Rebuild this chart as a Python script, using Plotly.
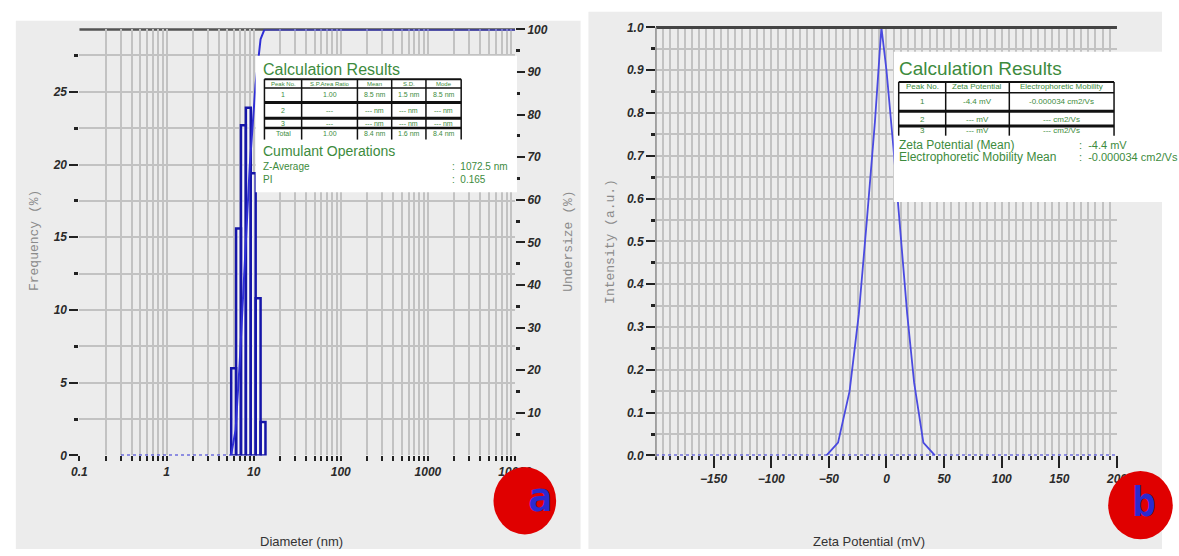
import plotly.graph_objects as go
import numpy as np

W, H = 1179, 556

# ---------------- data ----------------
# Panel a: size distribution (log-spaced bins)
bin_sizes_nm = [5.89, 6.70, 7.62, 8.68, 9.88, 11.25, 12.80]
bin_freq_pct = [6.0, 15.6, 22.7, 23.9, 19.4, 10.8, 2.3]
bin_ratio = 1.138
undersize_d_nm = [5.5, 6.2, 6.9, 7.8, 9.0, 10.5, 12.0, 13.3, 14.5, 10000]
undersize_pct = [0, 6, 21.5, 44, 67.7, 87, 97.7, 100, 100, 100]
baseline_d_nm = [0.3, 5.5]

# Panel b: zeta potential distribution
zeta_mv = [-52, -42, -32, -24, -17, -10, -4.4, 0, 6, 12, 18, 24, 32, 42]
zeta_int = [0, 0.03, 0.15, 0.33, 0.55, 0.78, 1.0, 0.9, 0.72, 0.52, 0.33, 0.17, 0.03, 0]

left_header = ["Peak No.", "S.P.Area Ratio", "Mean", "S.D.", "Mode"]
left_rows = [["1", "1.00", "8.5 nm", "1.5 nm", "8.5 nm"],
             ["2", "---", "--- nm", "--- nm", "--- nm"],
             ["3", "---", "--- nm", "--- nm", "--- nm"],
             ["Total", "1.00", "8.4 nm", "1.6 nm", "8.4 nm"]]
right_header = ["Peak No.", "Zeta Potential", "Electrophoretic Mobility"]
right_rows = [["1", "-4.4 mV", "-0.000034 cm2/Vs"],
              ["2", "--- mV", "--- cm2/Vs"],
              ["3", "--- mV", "--- cm2/Vs"]]

# ---------------- helpers ----------------
def px(x):
    return x / W

def py(y):
    return 1 - y / H

GREEN = "#3d8b3d"
BLUE = "#2f2fd6"
DARK_BLUE = "#1616a8"
GRID = "#c2c2c2"
TICKFONT = dict(family="Liberation Sans, Arial", size=12, color="#2a2a2a", weight="bold", style="italic")

fig = go.Figure()

# histogram bars as outlined rectangles
bx, by = [], []
for c, f in zip(bin_sizes_nm, bin_freq_pct):
    l, r = c / np.sqrt(bin_ratio), c * np.sqrt(bin_ratio)
    bx += [l, l, r, r, l, None]
    by += [0, f, f, 0, 0, None]
fig.add_trace(go.Scatter(x=bx, y=by, mode="lines", fill="toself", fillcolor="rgba(255,255,255,0.6)",
                         line=dict(color=DARK_BLUE, width=2.5), xaxis="x", yaxis="y", showlegend=False))
fig.add_trace(go.Scatter(x=baseline_d_nm, y=[0, 0], mode="lines", line=dict(color=BLUE, width=2, dash="dot"),
                         xaxis="x", yaxis="y", showlegend=False))
fig.add_trace(go.Scatter(x=undersize_d_nm, y=undersize_pct, mode="lines", line=dict(color=BLUE, width=2),
                         xaxis="x", yaxis="y2", showlegend=False, cliponaxis=False))

# zeta
fig.add_trace(go.Scatter(x=[-200, 200], y=[0, 0], mode="lines", line=dict(color=BLUE, width=2, dash="dot"),
                         xaxis="x2", yaxis="y3", showlegend=False, cliponaxis=False))
fig.add_trace(go.Scatter(x=zeta_mv, y=zeta_int, mode="lines", line=dict(color="#4a4ae0", width=1.8),
                         xaxis="x2", yaxis="y3", showlegend=False, cliponaxis=False))

# axes
logvals, logtext = [], []
for d in [0.1, 1, 10, 100, 1000]:
    for k in range(1, 10):
        logvals.append(d * k)
        logtext.append(("%g" % d) if k == 1 else "")
logvals.append(10000)
logtext.append("10000")

ydom_a = [py(460), py(23)]
ydom_b = [py(460), py(21)]

fig.update_layout(
    width=W, height=H, margin=dict(l=0, r=0, t=0, b=0),
    paper_bgcolor="white", plot_bgcolor="white", showlegend=False,
    xaxis=dict(type="log", domain=[px(73), px(518)], range=[-1, 4], anchor="y",
               tickmode="array", tickvals=logvals, ticktext=logtext,
               showgrid=True, gridcolor=GRID, gridwidth=2, zeroline=False, showline=False,
               ticks="outside", ticklen=5, tickwidth=2, tickcolor="#222", tickfont=TICKFONT),
    yaxis=dict(domain=ydom_a, range=[0, 29.29], anchor="x", dtick=5, tick0=0,
               showgrid=True, gridcolor=GRID, gridwidth=2, zeroline=False, showline=False,
               ticks="outside", ticklen=9, tickwidth=1.5, tickcolor="#222", tickfont=TICKFONT,
               minor=dict(dtick=2.5, tick0=0, ticks="outside", ticklen=4, tickwidth=3, tickcolor="#222",
                          showgrid=True, gridcolor=GRID, gridwidth=2)),
    yaxis2=dict(overlaying="y", side="right", anchor="x", range=[0, 100], tickmode="array",
                tickvals=list(range(10, 101, 10)), showgrid=False, zeroline=False, showline=False,
                ticks="outside", ticklen=9, tickwidth=1.5, tickcolor="#222", tickfont=TICKFONT,
                minor=dict(tickmode="array", tickvals=list(range(5, 100, 10)), ticks="outside",
                           ticklen=4, tickwidth=3, tickcolor="#222")),
    xaxis2=dict(domain=[px(662), px(1133)], range=[-200, 200], anchor="y3",
                tickmode="array", tickvals=[-150, -100, -50, 0, 50, 100, 150, 200],
                showgrid=False, zeroline=False, showline=False,
                ticks="outside", ticklen=12, tickwidth=1.5, tickcolor="#222", tickfont=TICKFONT,
                minor=dict(dtick=6.25, tick0=0, ticks="outside", ticklen=4, tickwidth=2, tickcolor="#333",
                           showgrid=True, gridcolor=GRID, gridwidth=1.6)),
    yaxis3=dict(domain=ydom_b, range=[0, 1], anchor="x2", dtick=0.1, tickformat=".1f",
                showgrid=True, gridcolor=GRID, gridwidth=1.6, zeroline=False, showline=False,
                ticks="outside", ticklen=9, tickwidth=1.5, tickcolor="#222", tickfont=TICKFONT,
                minor=dict(dtick=0.05, ticks="outside", ticklen=4, tickwidth=3, tickcolor="#222",
                           showgrid=True, gridcolor=GRID, gridwidth=1.6)),
)

shapes = []
# panel backgrounds
shapes.append(dict(type="rect", xref="paper", yref="paper", x0=px(8), x1=px(585), y0=0, y1=py(14),
                   fillcolor="#ececec", line=dict(width=0), layer="below"))
shapes.append(dict(type="rect", xref="paper", yref="paper", x0=px(593), x1=1, y0=0, y1=py(5),
                   fillcolor="#ececec", line=dict(width=0), layer="below"))
# top frame lines
shapes.append(dict(type="line", xref="paper", yref="paper", x0=px(73), x1=px(518), y0=py(23), y1=py(23),
                   line=dict(color="#555", width=2.5), layer="below"))
shapes.append(dict(type="line", xref="paper", yref="paper", x0=px(662), x1=px(1133), y0=py(21), y1=py(21),
                   line=dict(color="#444", width=3), layer="above"))
shapes.append(dict(type="line", xref="paper", yref="paper", x0=px(662), x1=px(662), y0=py(21), y1=py(462),
                   line=dict(color="#8a8a8a", width=1.5), layer="above"))

annotations = []

def text(x, y, s, size, color=GREEN, anchor="left", family="Liberation Sans Narrow, Liberation Sans, Arial"):
    annotations.append(dict(xref="paper", yref="paper", x=px(x), y=py(y), text=s, showarrow=False,
                            xanchor=anchor, yanchor="middle", font=dict(family=family, size=size, color=color)))

def hline(x0, x1, y, w=2, color="#111"):
    shapes.append(dict(type="line", xref="paper", yref="paper", x0=px(x0), x1=px(x1), y0=py(y), y1=py(y),
                       line=dict(color=color, width=w), layer="above"))

def vline(x, y0, y1, w=1.5, color="#111"):
    shapes.append(dict(type="line", xref="paper", yref="paper", x0=px(x), x1=px(x), y0=py(y0), y1=py(y1),
                       line=dict(color=color, width=w), layer="above"))

# ---- left results box ----
shapes.append(dict(type="rect", xref="paper", yref="paper", x0=px(253), x1=px(520), y0=py(190), y1=py(50),
                   fillcolor="white", line=dict(width=0), layer="above"))
text(258, 64, "Calculation Results", 16)
lcols = [262, 300, 357, 392, 427, 463]
for y, w in [(74, 2), (83, 1.5), (98, 3), (114, 3), (124, 2.5)]:
    hline(lcols[0], lcols[-1], y, w)
for x in lcols:
    vline(x, 74, 136, 1.5)
lrow_y = [90, 106, 119, 130]
for i, s in enumerate(left_header):
    text((lcols[i] + lcols[i + 1]) / 2, 79, s, 6, anchor="center")
for r, row in enumerate(left_rows):
    for i, s in enumerate(row):
        text((lcols[i] + lcols[i + 1]) / 2, lrow_y[r], s, 7, anchor="center")
text(258, 148, "Cumulant Operations", 14)
text(258, 164, "Z-Average", 10)
text(258, 177, "PI", 10)
text(452, 164, ":  1072.5 nm", 10)
text(452, 177, ":  0.165", 10)

# ---- right results box ----
shapes.append(dict(type="rect", xref="paper", yref="paper", x0=px(905), x1=1, y0=py(200), y1=py(46),
                   fillcolor="white", line=dict(width=0), layer="above"))
text(908, 63, "Calculation Results", 19)
rcols = [910, 958, 1023, 1130]
for y, w in [(77, 2), (88, 1.5), (107, 3), (122, 3)]:
    hline(rcols[0], rcols[-1], y, w)
for x in rcols:
    vline(x, 77, 132, 1.5)
for i, s in enumerate(right_header):
    text((rcols[i] + rcols[i + 1]) / 2, 82, s, 8, anchor="center")
rrow_y = [97, 115, 127]
for r, row in enumerate(right_rows):
    for i, s in enumerate(row):
        text((rcols[i] + rcols[i + 1]) / 2, rrow_y[r], s, 8, anchor="center")
text(908, 142, "Zeta Potential (Mean)", 12)
text(908, 154, "Electrophoretic Mobility Mean", 12)
text(1092, 142, ":  -4.4 mV", 11)
text(1092, 154, ":  -0.000034 cm2/Vs", 11)

# axis titles
MONO = "Liberation Mono, Courier New, monospace"
annotations.append(dict(xref="paper", yref="paper", x=px(18), y=py(240), text="Frequency (%)", showarrow=False,
                        textangle=-90, font=dict(family=MONO, size=13, color="#8a8a8a")))
annotations.append(dict(xref="paper", yref="paper", x=px(573), y=py(240), text="Undersize (%)", showarrow=False,
                        textangle=-90, font=dict(family=MONO, size=13, color="#8a8a8a")))
annotations.append(dict(xref="paper", yref="paper", x=px(616), y=py(240), text="Intensity (a.u.)", showarrow=False,
                        textangle=-90, font=dict(family=MONO, size=13, color="#8a8a8a")))
text(300, 548, "Diameter (nm)", 13, color="#333", anchor="center")
text(880, 548, "Zeta Potential (mV)", 13, color="#333", anchor="center")

# red circles with labels
shapes.append(dict(type="circle", xref="paper", yref="paper", x0=px(496), x1=px(560), y0=py(541), y1=py(472),
                   fillcolor="#e00000", line=dict(width=0), layer="above"))
shapes.append(dict(type="circle", xref="paper", yref="paper", x0=px(1124), x1=px(1190), y0=py(546), y1=py(476),
                   fillcolor="#e00000", line=dict(width=0), layer="above"))
LETTER = dict(family="DejaVu Sans Mono, Liberation Mono, monospace", size=40, color="#2a2ad0", weight="bold")
annotations.append(dict(xref="paper", yref="paper", x=px(544), y=py(503), text="a", showarrow=False,
                        xanchor="center", yanchor="middle", font=LETTER))
annotations.append(dict(xref="paper", yref="paper", x=px(1161), y=py(508), text="b", showarrow=False,
                        xanchor="center", yanchor="middle", font=LETTER))

fig.update_layout(shapes=shapes, annotations=annotations)
fig.write_html("out.html")
